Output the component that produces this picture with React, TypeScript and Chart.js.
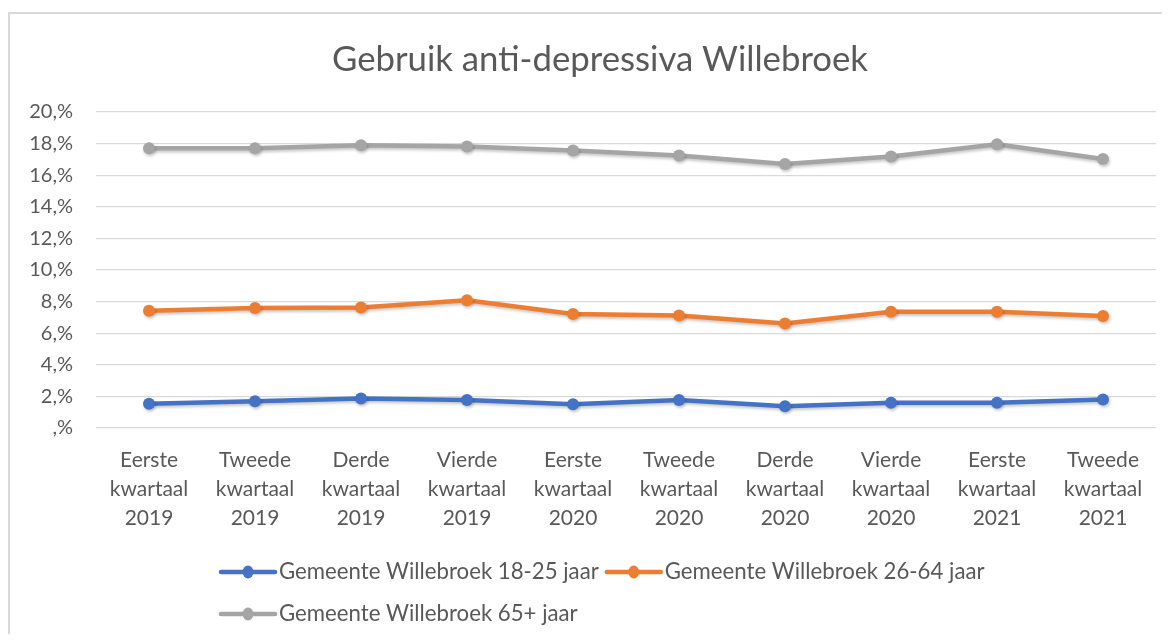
import React, { useEffect, useRef } from "react";
import { Chart, registerables } from "chart.js";

Chart.register(...registerables);

const TITLE = "Gebruik anti-depressiva Willebroek";
const quarterNames = ["Eerste", "Tweede", "Derde", "Vierde", "Eerste", "Tweede", "Derde", "Vierde", "Eerste", "Tweede"];
const quarterYears = ["2019", "2019", "2019", "2019", "2020", "2020", "2020", "2020", "2021", "2021"];
const seriesNames = [
  "Gemeente Willebroek 18-25 jaar",
  "Gemeente Willebroek 26-64 jaar",
  "Gemeente Willebroek 65+ jaar",
];
const youngValues = [1.53, 1.7, 1.87, 1.77, 1.5, 1.77, 1.37, 1.6, 1.6, 1.81];
const adultValues = [7.42, 7.59, 7.63, 8.09, 7.21, 7.12, 6.62, 7.36, 7.36, 7.09];
const seniorValues = [17.71, 17.71, 17.9, 17.81, 17.56, 17.25, 16.71, 17.19, 17.96, 17.02];
const yTicks = [0, 2, 4, 6, 8, 10, 12, 14, 16, 18, 20];

const COLORS = ["#4472C4", "#ED7D31", "#A5A5A5"];
const TEXT = "#595959";
const FONT = "Lato, 'Open Sans', sans-serif";

const tickLabel = (v: number) => (v === 0 ? ",%" : `${v},%`);

const titlePlugin = {
  id: "customTitle",
  afterDraw(chart: any) {
    const ctx = chart.ctx;
    ctx.save();
    ctx.font = `32px ${FONT}`;
    const w = ctx.measureText(TITLE).width;
    const size = (32 * 536) / w;
    ctx.font = `${size}px ${FONT}`;
    ctx.fillStyle = TEXT;
    ctx.textAlign = "center";
    ctx.textBaseline = "alphabetic";
    ctx.fillText(TITLE, 590, 57);
    ctx.restore();
  },
};

const legendPlugin = {
  id: "customLegend",
  afterDraw(chart: any) {
    const ctx = chart.ctx;
    ctx.save();
    ctx.font = `19px ${FONT}`;
    const w = ctx.measureText(seriesNames[0]).width;
    const size = (19 * 320) / w;
    ctx.font = `${size}px ${FONT}`;
    ctx.textBaseline = "middle";
    ctx.textAlign = "left";
    const lineLen = 58;
    const rows = [558, 600];
    let x = 209;
    chart.data.datasets.forEach((ds: any, i: number) => {
      const row = i < 2 ? 0 : 1;
      if (i === 2) x = 209;
      const y = rows[row];
      ctx.strokeStyle = ds.borderColor;
      ctx.lineWidth = 4.5;
      ctx.lineCap = "round";
      ctx.beginPath();
      ctx.moveTo(x + 2, y);
      ctx.lineTo(x + lineLen - 2, y);
      ctx.stroke();
      ctx.fillStyle = ds.borderColor;
      ctx.beginPath();
      ctx.ellipse(x + lineLen / 2, y, 5.5, 6.5, 0, 0, Math.PI * 2);
      ctx.fill();
      ctx.fillStyle = TEXT;
      ctx.fillText(ds.label, x + lineLen + 2, y);
      x += lineLen + 2 + ctx.measureText(ds.label).width + 6;
    });
    ctx.restore();
  },
};

const shadowPlugin = {
  id: "lineShadow",
  beforeDatasetDraw(chart: any) {
    const ctx = chart.ctx;
    ctx.save();
    ctx.shadowColor = "rgba(0,0,0,0.22)";
    ctx.shadowBlur = 3;
    ctx.shadowOffsetX = 1;
    ctx.shadowOffsetY = 2;
  },
  afterDatasetDraw(chart: any) {
    chart.ctx.restore();
  },
};

export default function App() {
  const canvasRef = useRef<HTMLCanvasElement | null>(null);

  useEffect(() => {
    if (!canvasRef.current) return;
    const labels = quarterNames.map((q, i) => [q, "kwartaal", quarterYears[i]]);
    const values = [youngValues, adultValues, seniorValues];
    const chart = new Chart(canvasRef.current, {
      type: "line",
      data: {
        labels,
        datasets: values.map((vals, i) => ({
          label: seriesNames[i],
          data: vals,
          borderColor: COLORS[i],
          backgroundColor: COLORS[i],
          borderWidth: 4.5,
          pointRadius: 6,
          pointBorderWidth: 0,
          pointBackgroundColor: COLORS[i],
          tension: 0,
          clip: false as any,
        })),
      },
      options: {
        animation: false,
        responsive: true,
        maintainAspectRatio: false,
        layout: { padding: { top: 98, right: 3, bottom: 0, left: 0 } },
        plugins: {
          legend: { display: false },
          title: { display: false },
          tooltip: { enabled: false },
        },
        scales: {
          x: {
            offset: true,
            grid: { display: false, drawTicks: false },
            border: { display: false },
            ticks: {
              color: TEXT,
              font: { family: FONT, size: 21, lineHeight: 29 / 21 },
              padding: 17.5,
              maxRotation: 0,
              autoSkip: false,
            },
            afterFit(scale: any) {
              scale.height = 206;
            },
          },
          y: {
            min: 0,
            max: 20,
            afterBuildTicks(scale: any) {
              scale.ticks = yTicks.map((v) => ({ value: v }));
            },
            grid: { color: "#D9D9D9", lineWidth: 1.3, drawTicks: false },
            border: { display: false },
            ticks: {
              color: TEXT,
              font: { family: FONT, size: 20 },
              padding: 23,
              callback: (v: any) => tickLabel(Number(v)),
            },
            afterFit(scale: any) {
              scale.width = 86;
            },
          },
        },
      },
      plugins: [titlePlugin, legendPlugin, shadowPlugin],
    });
    return () => chart.destroy();
  }, []);

  return (
    <div
      style={{
        marginTop: 4,
        borderTop: "2px solid #D9D9D9",
        borderLeft: "2px solid #D9D9D9",
        background: "#fff",
      }}
    >
      <div style={{ position: "relative", width: "100%", height: 620 }}>
        <canvas ref={canvasRef} />
      </div>
    </div>
  );
}
